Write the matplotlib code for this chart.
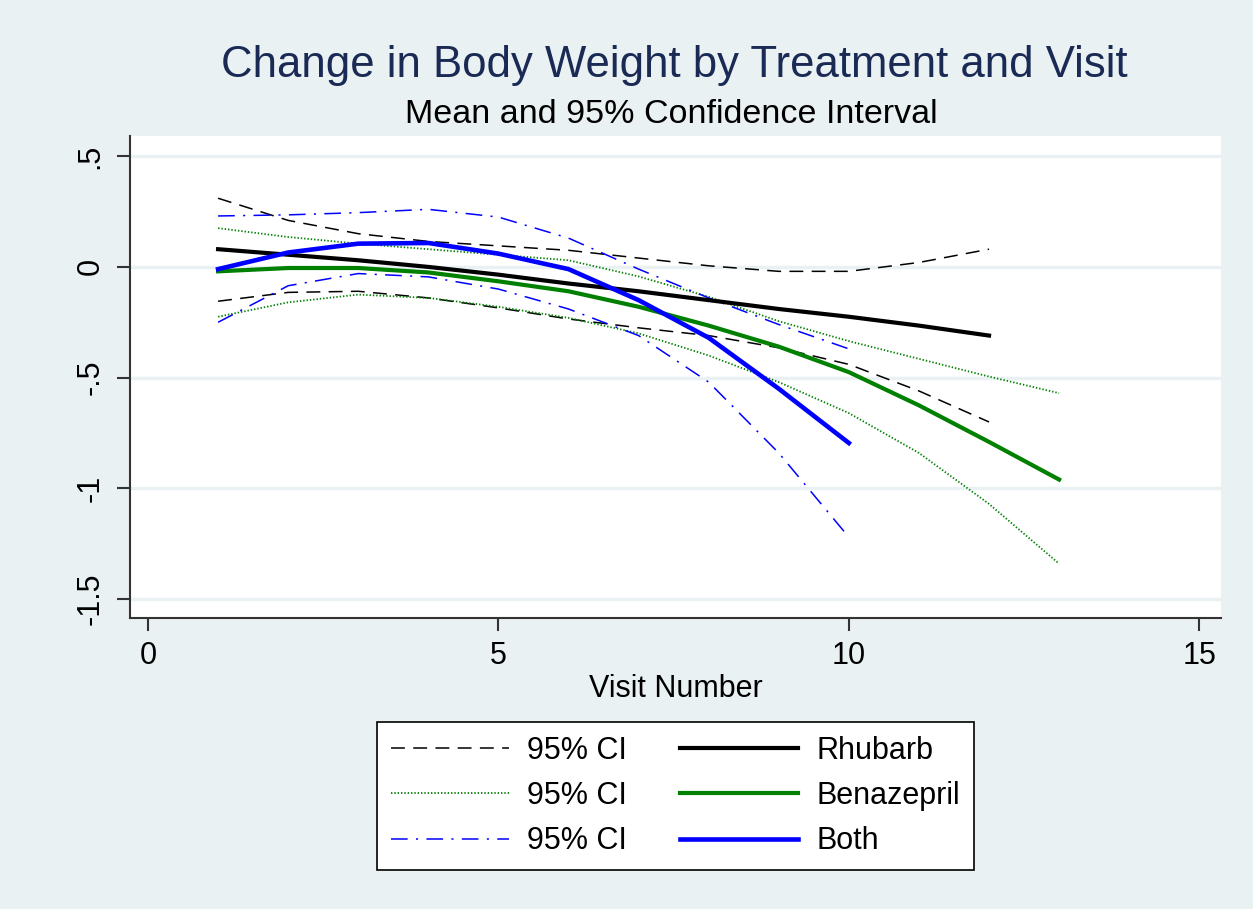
# Change in body weight by treatment and visit: mean curves with 95% CI bands
import matplotlib
matplotlib.use("Agg")
import matplotlib.pyplot as plt

plt.rcParams["font.family"] = ["Liberation Sans", "DejaVu Sans"]
plt.rcParams["lines.scale_dashes"] = False

# values (visit number -> change in weight)
visit_rhubarb = [1, 2, 3, 4, 5, 6, 7, 8, 9, 10, 11, 12]
rhubarb_mean = [0.08, 0.055, 0.03, 0.0, -0.035, -0.075, -0.11, -0.15, -0.19, -0.225, -0.265, -0.31]
rhubarb_hi = [0.31, 0.21, 0.15, 0.115, 0.095, 0.075, 0.04, 0.005, -0.02, -0.02, 0.02, 0.08]
rhubarb_lo = [-0.155, -0.115, -0.11, -0.14, -0.185, -0.235, -0.275, -0.31, -0.365, -0.44, -0.56, -0.70]

visit_benaz = [1, 2, 3, 4, 5, 6, 7, 8, 9, 10, 11, 12, 13]
benaz_mean = [-0.02, -0.005, -0.005, -0.025, -0.065, -0.11, -0.18, -0.265, -0.36, -0.475, -0.625, -0.79, -0.96]
benaz_hi = [0.175, 0.135, 0.105, 0.08, 0.055, 0.03, -0.043, -0.135, -0.245, -0.335, -0.415, -0.495, -0.57]
benaz_lo = [-0.225, -0.16, -0.125, -0.14, -0.18, -0.23, -0.30, -0.40, -0.52, -0.66, -0.84, -1.07, -1.34]

visit_both = [1, 2, 3, 4, 5, 6, 7, 8, 9, 10]
both_mean = [-0.01, 0.065, 0.105, 0.108, 0.06, -0.01, -0.15, -0.32, -0.55, -0.795]
both_hi = [0.23, 0.235, 0.245, 0.26, 0.225, 0.13, -0.01, -0.14, -0.26, -0.37]
both_lo = [-0.25, -0.085, -0.03, -0.045, -0.10, -0.19, -0.31, -0.52, -0.84, -1.22]

yticks = [-1.5, -1, -0.5, 0, 0.5]
ytick_labels = ["-1.5", "-1", "-.5", "0", ".5"]
xticks = [0, 5, 10, 15]

bg = "#eaf1f3"
dash_k = (0, (10, 6))
dot_g = (0, (1, 1.4))
dashdot_b = (0, (12, 6, 1.5, 6))

fig = plt.figure(figsize=(12.53, 9.09), dpi=100, facecolor=bg)
ax = fig.add_axes([130 / 1253, 291 / 909, 1091 / 1253, 482 / 909])
ax.set_facecolor("white")

# confidence bands (thin) then means (thick)
ax.plot(visit_rhubarb, rhubarb_hi, color="black", lw=1.1, linestyle=dash_k, label="95% CI")
ax.plot(visit_rhubarb, rhubarb_lo, color="black", lw=1.1, linestyle=dash_k)
ax.plot(visit_benaz, benaz_hi, color="#008000", lw=1.3, linestyle=dot_g, label="95% CI")
ax.plot(visit_benaz, benaz_lo, color="#008000", lw=1.3, linestyle=dot_g)
ax.plot(visit_both, both_hi, color="#0000ff", lw=1.1, linestyle=dashdot_b, label="95% CI")
ax.plot(visit_both, both_lo, color="#0000ff", lw=1.1, linestyle=dashdot_b)
ax.plot(visit_rhubarb, rhubarb_mean, color="black", lw=3, label="Rhubarb")
ax.plot(visit_benaz, benaz_mean, color="#008000", lw=3, label="Benazepril")
ax.plot(visit_both, both_mean, color="#0000ff", lw=3.3, label="Both")

ax.set_xlim(-0.257, 15.31)
ax.set_ylim(-1.585, 0.591)
ax.set_xticks(xticks)
ax.set_yticks(yticks)
ax.set_yticklabels(ytick_labels, rotation=90, va="center")
ax.tick_params(axis="both", labelsize=22, length=9.5, width=1.5, color="#333333")
ax.tick_params(axis="x", pad=7)
ax.tick_params(axis="y", pad=8)
ax.grid(axis="y", color=bg, lw=2.5)
ax.set_axisbelow(True)
for side in ["top", "right"]:
    ax.spines[side].set_visible(False)
for side in ["left", "bottom"]:
    ax.spines[side].set_color("#333333")
    ax.spines[side].set_linewidth(1.5)

ax.set_xlabel("Visit Number", fontsize=22, labelpad=2)

fig.text(0.5385, 1 - 77 / 909, "Change in Body Weight by Treatment and Visit",
         ha="center", va="baseline", fontsize=31.5, color="#1a2a55")
fig.text(0.536, 1 - 123 / 909, "Mean and 95% Confidence Interval",
         ha="center", va="baseline", fontsize=24.5, color="black")

leg = ax.legend(ncol=2, loc="upper center", bbox_to_anchor=(675.5 / 1253, 1 - 722 / 909),
                bbox_transform=fig.transFigure, fontsize=22, frameon=True, fancybox=False,
                edgecolor="black", framealpha=1, handlelength=3.86, handletextpad=0.6,
                columnspacing=1.75, labelspacing=0.5, borderpad=0.45, borderaxespad=0)
leg.get_frame().set_linewidth(1.2)

fig.savefig("out.png", dpi=100, facecolor=bg)
